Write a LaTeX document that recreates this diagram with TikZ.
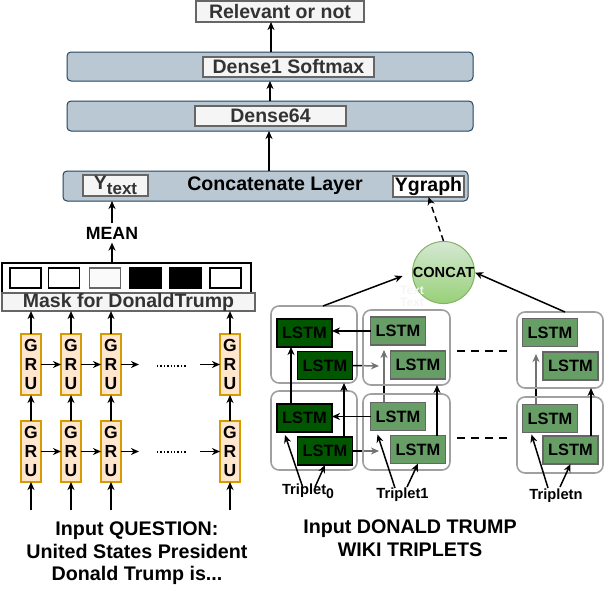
\documentclass[tikz,border=0pt]{standalone}
\usepackage{fontspec}
\setmainfont{Liberation Sans}
\usetikzlibrary{arrows.meta,calc}
\definecolor{layerfill}{HTML}{BAC8D3}
\definecolor{layerdraw}{HTML}{23445D}
\definecolor{lblfill}{HTML}{F5F5F5}
\definecolor{lbldraw}{HTML}{666666}
\definecolor{lbltext}{HTML}{333333}
\definecolor{grufill}{HTML}{FFE6CC}
\definecolor{grudraw}{HTML}{D79B00}
\definecolor{darkg}{HTML}{005700}
\definecolor{lightg}{HTML}{669E66}
\definecolor{contdraw}{HTML}{A0A0A0}
\definecolor{circtop}{HTML}{D5E8D4}
\definecolor{circbot}{HTML}{97D077}
\definecolor{circdraw}{HTML}{82B366}
\newcommand\myfs[1]{\fontsize{#1}{#1}\selectfont}
\begin{document}
\begin{tikzpicture}[x=1pt,y=-1pt,
  sz/.style args={#1/#2}{minimum width=#1pt, minimum height=#2pt, inner sep=0pt, outer sep=0pt},
  layer/.style={draw=layerdraw, fill=layerfill, rounded corners=4pt, line width=1pt},
  lbl/.style={draw=lbldraw, fill=lblfill, line width=1.5pt, text=lbltext, font=\bfseries\myfs{19.5}},
  gru/.style={draw=grudraw, fill=grufill, line width=1.3pt, sz=20/61, align=center, font=\bfseries\fontsize{17.5}{19}\selectfont},
  lstmd/.style={draw=black, fill=darkg, line width=1.6pt, sz=55/28, font=\bfseries\myfs{16.4}},
  lstml/.style={draw=lbldraw, fill=lightg, line width=1.6pt, sz=55/28, font=\bfseries\myfs{16.4}},
  cont/.style={draw=contdraw, line width=1.6pt, rounded corners=8pt},
  arr/.style={-{Stealth[length=8pt,width=7pt,inset=2.5pt]}, line width=1.5pt},
  sq/.style={draw, line width=1.1pt, sz=31/20}
]
\useasboundingbox (0,0) rectangle (604,589);

% ---- top layers
\node[lbl, sz=168/21] (rel) at (280,11.5) {Relevant or not};
\node[layer, sz=406/29] (L1) at (270,66.5) {};
\node[lbl, sz=171/20] (d1) at (288.5,67) {Dense1 Softmax};
\node[layer, sz=406/30] (L2) at (270,116) {};
\node[lbl, sz=151/20] (d64) at (270.5,116) {Dense64};
\node[layer, sz=405/30] (L3) at (265.5,186) {};
\node[font=\bfseries\myfs{19.6}] (cat) at (275,186) {Concatenate Layer};
\node[lbl, sz=65/21] (yt) at (115.5,185.5) {Y\raisebox{-5pt}{\myfs{17}text}};
\node[lbl, sz=71/21, fill=white, text=black] (yg) at (428.5,186.5) {Ygraph};

\coordinate (x271) at (271,0);
\coordinate (x270) at (270,0);
\coordinate (x269) at (269,0);
\draw[arr] (L1.north -| x271) -- (rel.south -| x271);
\draw[arr] (L2.north -| x270) -- (L1.south -| x270);
\draw[arr] (L3.north -| x269) -- (L2.south -| x269);

% ---- mask & mean
\node[font=\bfseries\myfs{17.7}] (mean) at (112,233) {MEAN};
\node[draw, line width=1.1pt, sz=249/30] (mbox) at (126.5,278) {};
\node[sq] (sq1) at (25.5,278) {};
\node[sq] (sq2) at (64,278) {};
\node[sq, draw=lbldraw, fill=black!2] (sq3) at (105,278) {};
\node[sq, fill=black] (sq4) at (145.5,278) {};
\node[sq, fill=black] (sq5) at (185.5,278) {};
\node[sq] (sq6) at (225.5,278) {};
\node[lbl, sz=253/18] (mask) at (128.5,302) {Mask for DonaldTrump};
\draw[arr] (mbox.north -| mean) -- (mean.south);
\draw[arr] (mean.north) -- (L3.south -| mean);

% ---- GRU
\foreach \i/\x in {1/31,2/71,3/111,4/230} {
  \node[gru] (gu\i) at (\x,364.5) {G\\R\\U};
  \node[gru] (gl\i) at (\x,451.5) {G\\R\\U};
  \coordinate (in\i) at (\x,510);
  \draw[arr] (gl\i.north) -- (gu\i.south);
  \draw[arr] (gu\i.north) -- (mask.south -| gu\i.north);
  \draw[arr] (in\i) -- (gl\i.south);
}
\foreach \r in {u,l} {
  \draw[arr] (g\r1.east) -- (g\r2.west);
  \draw[arr] (g\r2.east) -- (g\r3.west);
}
\coordinate (hu3) at (139,364.5);
\coordinate (hl3) at (139,451.5);
\coordinate (hu4) at (200,364.5);
\coordinate (hl4) at (200,451.5);
\coordinate (du1) at (157,366); \coordinate (du2) at (186,366);
\coordinate (dl1) at (157,452); \coordinate (dl2) at (186,452);
\draw[arr] (gu3.east) -- (hu3);
\draw[arr] (gl3.east) -- (hl3);
\draw[arr] (hu4) -- (gu4.west);
\draw[arr] (hl4) -- (gl4.west);
\draw[line width=1.4pt, dash pattern=on 1.4pt off 2pt] (du1) -- (du2);
\draw[line width=1.4pt, dash pattern=on 1.4pt off 2pt] (dl1) -- (dl2);

% ---- LSTM containers A
\node[cont, fill=white, sz=86/77] (At) at (314,344.5) {};
\node[cont, fill=white, sz=86/79] (Ab) at (314,430.5) {};

\coordinate (pA2t) at (325,365.5);
\coordinate (pA2b) at (325,451);

% under arrows (partly covered by translucent containers)
\coordinate (eA2t) at (379,366);
\coordinate (eA2b) at (379,451);
\coordinate (sB1) at (384,403);
\coordinate (eB1) at (384,350);
\coordinate (sC1) at (536,404);
\coordinate (eC1) at (536,354);
\draw[arr] ($(pA2t)+(27.5,0)$) -- (eA2t);
\draw[arr] ($(pA2b)+(27.5,0)$) -- (eA2b);
\draw[arr] (sB1) -- (eB1);
\draw[arr] (sC1) -- (eC1);

% containers B, C (translucent)
\node[cont, fill=white, fill opacity=0.45, sz=87/75] (Bt) at (406.5,347.5) {};
\node[cont, fill=white, fill opacity=0.45, sz=87/76] (Bb) at (406.5,432) {};
\node[cont, fill=white, fill opacity=0.45, sz=86/76] (Ct) at (560,350) {};
\node[cont, fill=white, fill opacity=0.45, sz=86/76] (Cb) at (560,435) {};

% LSTM boxes
\node[lstmd] (A1t) at (304.5,333) {LSTM};
\node[lstmd] (A2t) at (pA2t) {LSTM};
\node[lstmd] (A1b) at (304.5,418) {LSTM};
\node[lstmd] (A2b) at (pA2b) {LSTM};
\node[lstml] (B1t) at (398,331) {LSTM};
\node[lstml] (B2t) at (418,365) {LSTM};
\node[lstml] (B1b) at (398,416.5) {LSTM};
\node[lstml] (B2b) at (418,449.5) {LSTM};
\node[lstml] (C1t) at (550,332.5) {LSTM};
\node[lstml] (C2t) at (570.5,366) {LSTM};
\node[lstml] (C1b) at (550,418.5) {LSTM};
\node[lstml] (C2b) at (570.5,450) {LSTM};

% over arrows
\draw[arr] (B1t.west) -- (B1t.west -| A1t.east);
\draw[arr] (B1b.west) -- (B1b.west -| A1b.east);
\coordinate (x291) at (291,0);
\coordinate (x344) at (344,0);
\coordinate (x437) at (437,0);
\coordinate (x591) at (591,0);
\draw[arr] (A1b.north -| x291) -- (A1t.south -| x291);
\draw[arr] (A2b.north -| x344) -- (At.south -| x344);
\draw[arr] (B2b.north -| x437) -- (Bt.south -| x437);
\draw[arr] (C2b.north -| x591) -- (Ct.south -| x591);

% dashes between columns
\coordinate (m1a) at (457,351); \coordinate (m1b) at (509,351);
\coordinate (m2a) at (457,438); \coordinate (m2b) at (509,438);
\draw[line width=1.4pt, dash pattern=on 8pt off 6pt] (m1a) -- (m1b);
\draw[line width=1.4pt, dash pattern=on 8pt off 6pt] (m2a) -- (m2b);

% triplets
\node[font=\bfseries\myfs{14.7}, inner sep=0pt] (t0) at (308,491) {Triplet\raisebox{-4pt}{\myfs{14}0}};
\node[font=\bfseries\myfs{14.7}, inner sep=0pt] (t1) at (402.5,495) {Triplet1};
\node[font=\bfseries\myfs{14.7}, inner sep=0pt] (tn) at (556,496) {Tripletn};
\coordinate (s01) at (303,488); \coordinate (s02) at (315,487);
\coordinate (s11) at (395,488); \coordinate (s12) at (407,487);
\coordinate (sn1) at (548,488); \coordinate (sn2) at (560,487);
\draw[arr] (s01) -- ($(A1b.south west)+(8,3)$);
\draw[arr] (s02) -- (A2b.south);
\draw[arr] (s11) -- ($(B1b.south west)+(7,4)$);
\draw[arr] (s12) -- (B2b.south);
\draw[arr] (sn1) -- ($(C1b.south west)+(9,2)$);
\draw[arr] (sn2) -- (C2b.south);

% concat circle
\node[circle, draw=circdraw, top color=circtop, bottom color=circbot, minimum size=61pt, inner sep=0pt, line width=1pt, font=\bfseries\myfs{14.6}] (circ) at (443.5,272.5) {CONCAT};
\node[text=black!4, font=\bfseries\myfs{12}, inner sep=0pt] (gh1) at (412,290) {Text};
\node[text=black!4, font=\bfseries\myfs{12}, inner sep=0pt] (gh2) at (412,302) {Text};
\draw[arr, shorten >=10pt] ($(At.north)+(9,0)$) -- (circ.west);
\draw[arr] ($(Ct.north)+(5,0)$) -- (circ.east);
\draw[arr, dash pattern=on 6pt off 4pt] (circ.north) -- (yg.south);

% bottom captions
\node[font=\bfseries\fontsize{19.7}{22.5}\selectfont, align=center] (q) at (137,553.5) {Input QUESTION:\\United States President\\Donald Trump is...};
\node[font=\bfseries\fontsize{19.7}{23}\selectfont, align=center] (w) at (410,538.5) {Input DONALD TRUMP\\WIKI TRIPLETS};
\end{tikzpicture}
\end{document}
